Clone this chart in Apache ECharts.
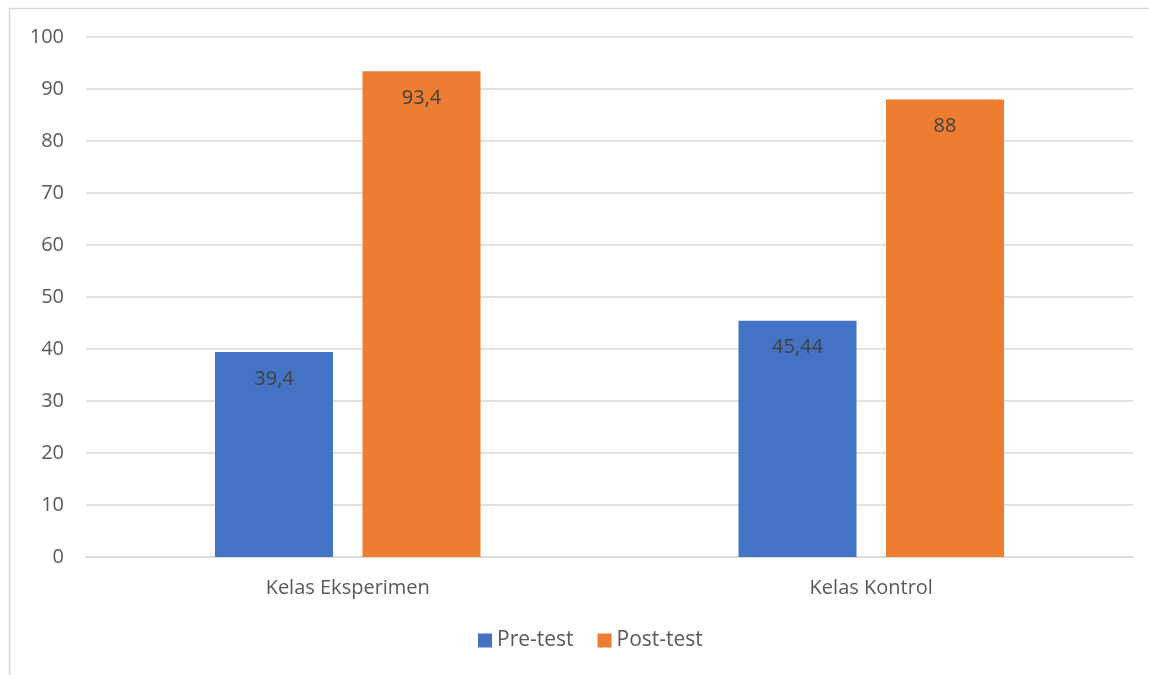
<!DOCTYPE html>
<html>
<head>
<meta charset="utf-8">
<script src="https://cdn.jsdelivr.net/npm/echarts@6/dist/echarts.min.js"></script>
<style>html,body{margin:0;padding:0;background:#fff;}#c{width:1149px;height:675px;}</style>
</head>
<body>
<div id="c"></div>
<script>
var categories = ['Kelas Eksperimen', 'Kelas Kontrol'];
var preTest = [39.4, 45.44];
var postTest = [93.4, 88];
var seriesNames = ['Pre-test', 'Post-test'];

var chart = echarts.init(document.getElementById('c'));
var font = 'Open Sans';
function fmt(p){ return String(p.value).replace('.', ','); }
var labelCfg = {show:true, position:'insideTop', distance:17, color:'#404040', fontSize:20, fontFamily:font, formatter:fmt};
chart.setOption({
  animation:false,
  graphic:[{type:'rect', shape:{x:9.5, y:8.5, width:1200, height:800}, style:{fill:'none', stroke:'#d9d9d9', lineWidth:1.5}, silent:true}],
  grid:{left:86, right:16, top:37, bottom:118},
  legend:{bottom:19, left:473, itemWidth:14, itemHeight:14, itemGap:24, itemStyle:{borderWidth:0}, icon:'rect',
    textStyle:{color:'#595959', fontSize:21, fontFamily:font, padding:[0,0,0,0]}, data:seriesNames},
  xAxis:{type:'category', data:categories, axisTick:{show:false},
    axisLine:{lineStyle:{color:'#d9d9d9', width:1.5}},
    axisLabel:{color:'#595959', fontSize:20, fontFamily:font, margin:21}},
  yAxis:{type:'value', min:0, max:100, interval:10,
    axisLine:{show:false}, axisTick:{show:false},
    splitLine:{lineStyle:{color:'#d9d9d9', width:1.5}},
    axisLabel:{color:'#595959', fontSize:20, fontFamily:font, margin:22}},
  series:[
    {name:seriesNames[0], type:'bar', data:preTest, barWidth:118, barGap:'25%', itemStyle:{color:'#4472C4'}, label:labelCfg},
    {name:seriesNames[1], type:'bar', data:postTest, barWidth:118, barGap:'25%', itemStyle:{color:'#ED7D31'}, label:labelCfg}
  ]
});
</script>
</body>
</html>
